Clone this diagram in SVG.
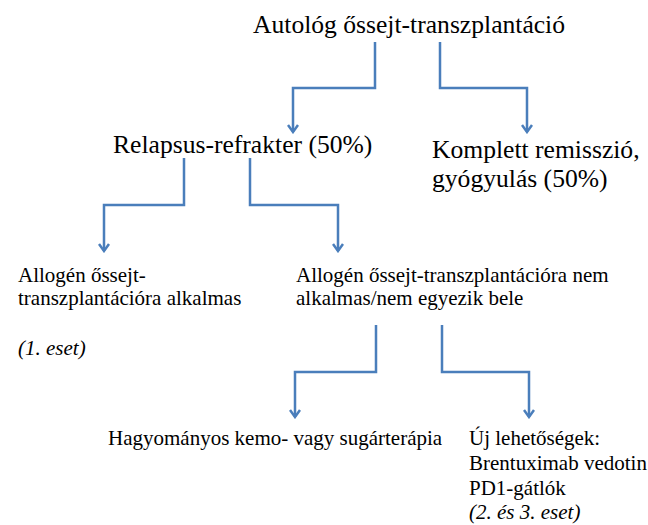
<svg xmlns="http://www.w3.org/2000/svg" width="648" height="525" viewBox="0 0 648 525">
<defs>
<style>
.t{font-family:'Liberation Serif','Times New Roman',serif;fill:#000}
.big{font-size:25.6px}
.sm{font-size:21px}
.it{font-style:italic}
.c{fill:none;stroke:#4a7ebb;stroke-width:2.5}
</style>
<marker id="ah" viewBox="0 0 12 12" refX="10" refY="6" markerWidth="12" markerHeight="12" markerUnits="userSpaceOnUse" orient="auto">
<path d="M3,1 L10,6 L3,11" fill="none" stroke="#4a7ebb" stroke-width="2.5"/>
</marker>
</defs>
<rect width="648" height="525" fill="#fff"/>
<g id="connectors">
<path class="c" d="M375,42 V88 H293 V132" marker-end="url(#ah)"/>
<path class="c" d="M440,42 V88 H527 V132" marker-end="url(#ah)"/>
<path class="c" d="M184,158 V205 H104 V251" marker-end="url(#ah)"/>
<path class="c" d="M250,158 V205 H338 V251" marker-end="url(#ah)"/>
<path class="c" d="M376,325 V372 H295 V417" marker-end="url(#ah)"/>
<path class="c" d="M442,325 V372 H529 V417" marker-end="url(#ah)"/>
</g>
<g id="n_auto"><text class="t big" x="253" y="33">Autológ őssejt-transzplantáció</text></g>
<g id="n_relapsus"><text class="t big" x="113" y="153">Relapsus-refrakter (50%)</text></g>
<g id="n_komplett"><text class="t big" x="432" y="158">Komplett remisszió,</text><text class="t big" x="432" y="187">gyógyulás (50%)</text></g>
<g id="n_alkalmas"><text class="t sm" x="18" y="282">Allogén őssejt-</text><text class="t sm" x="18" y="305">transzplantációra alkalmas</text><text class="t sm it" x="18" y="355">(1. eset)</text></g>
<g id="n_nemalkalmas"><text class="t sm" x="296" y="282">Allogén őssejt-transzplantációra nem</text><text class="t sm" x="296" y="305">alkalmas/nem egyezik bele</text></g>
<g id="n_hagyomanyos"><text class="t sm" x="108" y="445">Hagyományos kemo- vagy sugárterápia</text></g>
<g id="n_uj"><text class="t sm" x="469" y="445">Új lehetőségek:</text><text class="t sm" x="469" y="470">Brentuximab vedotin</text><text class="t sm" x="469" y="495">PD1-gátlók</text><text class="t sm it" x="469" y="519">(2. és 3. eset)</text></g>
</svg>
